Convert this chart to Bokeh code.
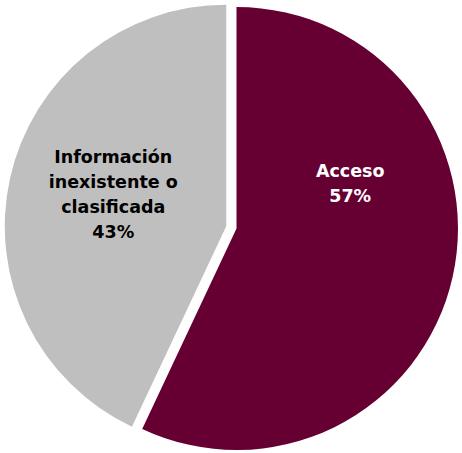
import math
from bokeh.plotting import figure
from bokeh.models import Range1d, ColumnDataSource
from bokeh.core.properties import value
from bokeh.embed import file_html
from bokeh.resources import INLINE

# ---- data ----
categories = ["Acceso", "Información\ninexistente o\nclasificada"]
shares = [57, 43]
colors = ["#660033", "#BFBFBF"]
label_colors = ["#FFFFFF", "#000000"]

# ---- layout constants ----
RADIUS = 221.5
EXPLODE = [0.0, 10.5]
# label anchors (relative to each slice's own centre, same units as radius)
LABEL_POS = [(113.7, 45.5), (-113.0, 32.0)]

total = float(sum(shares))
xs, ys, starts, ends, texts = [], [], [], [], []
cum = 0.0
for v, off, cat in zip(shares, EXPLODE, categories):
    end = math.pi / 2 - 2 * math.pi * cum / total
    start = end - 2 * math.pi * v / total
    mid = (start + end) / 2
    xs.append(off * math.cos(mid))
    ys.append(off * math.sin(mid))
    starts.append(start)
    ends.append(end)
    texts.append(f"{cat}\n{round(100 * v / total)}%")
    cum += v

src = ColumnDataSource(dict(x=xs, y=ys, start=starts, end=ends, color=colors))
lsrc = ColumnDataSource(dict(
    x=[p[0] + xx for p, xx in zip(LABEL_POS, xs)],
    y=[p[1] + yy for p, yy in zip(LABEL_POS, ys)],
    text=texts, color=label_colors))

p = figure(width=459, height=450, x_range=Range1d(-233, 226), y_range=Range1d(-225, 225),
           output_backend="svg", toolbar_location=None, min_border=0)
p.margin = (3, 0, 0, 3)
p.axis.visible = False
p.grid.visible = False
p.outline_line_color = None
p.background_fill_color = "white"
p.border_fill_color = "white"

p.wedge(x="x", y="y", radius=RADIUS, start_angle="start", end_angle="end",
        direction="anticlock", fill_color="color", line_color=None, source=src)

p.text(x="x", y="y", text="text", text_color="color", source=lsrc,
       text_font=value("DejaVu Sans"), text_font_style="bold", text_font_size="17.5px",
       text_align="center", text_baseline="middle", text_line_height=1.25)

open("out.html", "w").write(file_html(p, INLINE))
